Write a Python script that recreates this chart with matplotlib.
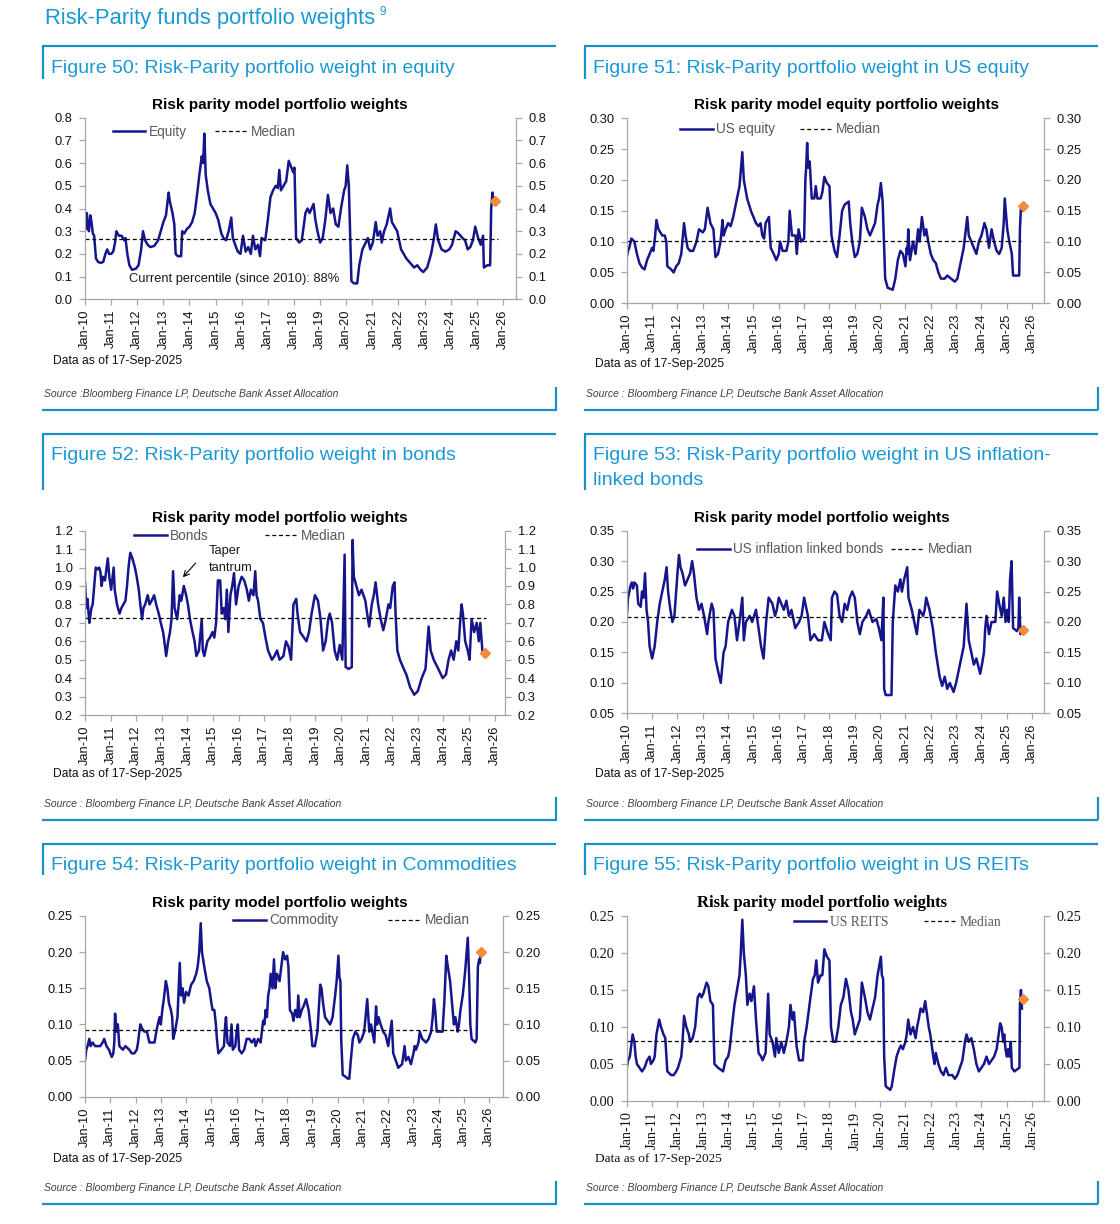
import matplotlib
matplotlib.use("Agg")
import matplotlib.pyplot as plt
from matplotlib.lines import Line2D
from matplotlib.ticker import FormatStrFormatter

# ---------------- data ----------------
year_ticks = list(range(2010, 2027))
tick_labels = ["Jan-10", "Jan-11", "Jan-12", "Jan-13", "Jan-14", "Jan-15", "Jan-16", "Jan-17",
               "Jan-18", "Jan-19", "Jan-20", "Jan-21", "Jan-22", "Jan-23", "Jan-24", "Jan-25", "Jan-26"]

eq_t = [2010.00, 2010.03, 2010.07, 2010.10, 2010.15, 2010.20, 2010.25, 2010.30, 2010.35, 2010.42,
        2010.50, 2010.60, 2010.70, 2010.78, 2010.85, 2010.92, 2011.00, 2011.08, 2011.15, 2011.20,
        2011.30, 2011.40, 2011.50, 2011.55, 2011.62, 2011.70, 2011.80, 2011.95, 2012.05, 2012.15,
        2012.22, 2012.30, 2012.40, 2012.50, 2012.65, 2012.80, 2012.90, 2013.00, 2013.10, 2013.20,
        2013.25, 2013.35, 2013.42, 2013.47, 2013.55, 2013.68, 2013.72, 2013.80, 2013.90, 2014.00,
        2014.10, 2014.20, 2014.30, 2014.38, 2014.47, 2014.52, 2014.57, 2014.62, 2014.70, 2014.80,
        2014.90, 2015.00, 2015.10, 2015.22, 2015.30, 2015.40, 2015.50, 2015.60, 2015.66, 2015.75,
        2015.85, 2015.95, 2016.05, 2016.15, 2016.25, 2016.35, 2016.43, 2016.52, 2016.62, 2016.70,
        2016.76, 2016.90, 2017.00, 2017.10, 2017.20, 2017.30, 2017.38, 2017.44, 2017.50, 2017.60,
        2017.70, 2017.80, 2017.90, 2017.97, 2018.02, 2018.08, 2018.20, 2018.30, 2018.44, 2018.52,
        2018.60, 2018.75, 2018.82, 2018.90, 2019.00, 2019.10, 2019.20, 2019.30, 2019.40, 2019.50,
        2019.60, 2019.70, 2019.80, 2019.92, 2019.98, 2020.04, 2020.10, 2020.20, 2020.30, 2020.42,
        2020.50, 2020.62, 2020.75, 2020.83, 2020.92, 2021.02, 2021.13, 2021.20, 2021.30, 2021.36,
        2021.45, 2021.55, 2021.68, 2021.75, 2021.85, 2021.95, 2022.10, 2022.30, 2022.45, 2022.60,
        2022.72, 2022.85, 2022.95, 2023.10, 2023.25, 2023.36, 2023.43, 2023.52, 2023.65, 2023.80,
        2023.95, 2024.05, 2024.19, 2024.30, 2024.45, 2024.55, 2024.65, 2024.75, 2024.85, 2024.94,
        2025.05, 2025.15, 2025.24, 2025.27, 2025.40, 2025.51, 2025.55, 2025.60, 2025.63]
eq_v = [0.38, 0.31, 0.38, 0.32, 0.30, 0.37, 0.34, 0.29, 0.28, 0.18,
        0.165, 0.16, 0.165, 0.20, 0.22, 0.20, 0.20, 0.21, 0.25, 0.30,
        0.28, 0.28, 0.26, 0.27, 0.20, 0.15, 0.13, 0.135, 0.15, 0.22,
        0.30, 0.26, 0.24, 0.23, 0.235, 0.26, 0.30, 0.34, 0.37, 0.47,
        0.43, 0.38, 0.33, 0.20, 0.19, 0.19, 0.30, 0.29, 0.31, 0.32,
        0.34, 0.38, 0.47, 0.55, 0.63, 0.60, 0.73, 0.55, 0.48, 0.42,
        0.40, 0.38, 0.35, 0.29, 0.27, 0.26, 0.30, 0.36, 0.27, 0.24,
        0.21, 0.20, 0.28, 0.21, 0.23, 0.20, 0.28, 0.22, 0.24, 0.19,
        0.27, 0.26, 0.35, 0.45, 0.48, 0.50, 0.49, 0.57, 0.48, 0.50,
        0.52, 0.61, 0.58, 0.56, 0.58, 0.27, 0.25, 0.26, 0.38, 0.40,
        0.38, 0.42, 0.35, 0.30, 0.25, 0.27, 0.35, 0.46, 0.38, 0.40,
        0.33, 0.32, 0.40, 0.48, 0.50, 0.59, 0.50, 0.08, 0.07, 0.07,
        0.15, 0.22, 0.25, 0.27, 0.22, 0.25, 0.34, 0.28, 0.30, 0.25,
        0.30, 0.33, 0.40, 0.34, 0.32, 0.30, 0.22, 0.18, 0.16, 0.14,
        0.15, 0.13, 0.12, 0.14, 0.20, 0.27, 0.33, 0.26, 0.22, 0.21,
        0.22, 0.24, 0.30, 0.29, 0.27, 0.26, 0.22, 0.23, 0.26, 0.32,
        0.27, 0.24, 0.28, 0.14, 0.15, 0.15, 0.40, 0.47, 0.44]

useq_t = [2010.00, 2010.05, 2010.10, 2010.18, 2010.30, 2010.40, 2010.50, 2010.60, 2010.70, 2010.80,
          2010.90, 2011.00, 2011.05, 2011.12, 2011.17, 2011.25, 2011.40, 2011.50, 2011.56, 2011.60,
          2011.75, 2011.85, 2011.95, 2012.05, 2012.15, 2012.26, 2012.32, 2012.40, 2012.50, 2012.62,
          2012.75, 2012.85, 2013.00, 2013.08, 2013.19, 2013.30, 2013.42, 2013.50, 2013.60, 2013.70,
          2013.78, 2013.82, 2013.90, 2014.00, 2014.10, 2014.20, 2014.35, 2014.45, 2014.56, 2014.62,
          2014.75, 2014.90, 2015.00, 2015.10, 2015.20, 2015.28, 2015.35, 2015.42, 2015.48, 2015.61,
          2015.68, 2015.80, 2015.90, 2016.00, 2016.05, 2016.15, 2016.30, 2016.38, 2016.43, 2016.52,
          2016.66, 2016.71, 2016.78, 2016.88, 2017.00, 2017.05, 2017.08, 2017.12, 2017.16, 2017.22,
          2017.30, 2017.40, 2017.46, 2017.52, 2017.65, 2017.72, 2017.80, 2017.90, 2018.00, 2018.08,
          2018.20, 2018.30, 2018.40, 2018.50, 2018.60, 2018.76, 2018.82, 2018.90, 2019.00, 2019.10,
          2019.20, 2019.28, 2019.40, 2019.50, 2019.60, 2019.70, 2019.80, 2019.90, 2019.96, 2020.03,
          2020.10, 2020.15, 2020.20, 2020.30, 2020.50, 2020.60, 2020.70, 2020.80, 2020.90, 2021.00,
          2021.05, 2021.08, 2021.11, 2021.18, 2021.30, 2021.40, 2021.50, 2021.56, 2021.65, 2021.75,
          2021.82, 2021.90, 2022.00, 2022.10, 2022.20, 2022.30, 2022.40, 2022.55, 2022.65, 2022.80,
          2022.95, 2023.05, 2023.15, 2023.30, 2023.44, 2023.50, 2023.60, 2023.70, 2023.80, 2023.90,
          2024.00, 2024.12, 2024.20, 2024.30, 2024.40, 2024.50, 2024.60, 2024.70, 2024.80, 2024.88,
          2024.92, 2025.02, 2025.10, 2025.20, 2025.25, 2025.49, 2025.52, 2025.56, 2025.60]
useq_v = [0.075, 0.085, 0.09, 0.105, 0.10, 0.08, 0.065, 0.058, 0.055, 0.07,
          0.08, 0.09, 0.085, 0.11, 0.135, 0.12, 0.11, 0.11, 0.10, 0.06,
          0.055, 0.05, 0.06, 0.065, 0.08, 0.13, 0.11, 0.09, 0.085, 0.085,
          0.10, 0.12, 0.115, 0.12, 0.155, 0.13, 0.12, 0.075, 0.08, 0.10,
          0.135, 0.11, 0.12, 0.13, 0.125, 0.14, 0.17, 0.19, 0.245, 0.20,
          0.17, 0.15, 0.14, 0.13, 0.125, 0.13, 0.11, 0.105, 0.13, 0.14,
          0.09, 0.08, 0.07, 0.08, 0.10, 0.085, 0.085, 0.10, 0.15, 0.11,
          0.11, 0.08, 0.12, 0.10, 0.105, 0.20, 0.22, 0.26, 0.22, 0.23,
          0.17, 0.17, 0.19, 0.17, 0.17, 0.18, 0.205, 0.195, 0.19, 0.11,
          0.085, 0.075, 0.11, 0.15, 0.16, 0.165, 0.13, 0.10, 0.075, 0.08,
          0.10, 0.155, 0.14, 0.12, 0.11, 0.12, 0.13, 0.16, 0.17, 0.195,
          0.165, 0.10, 0.04, 0.025, 0.022, 0.04, 0.07, 0.085, 0.08, 0.06,
          0.09, 0.08, 0.12, 0.07, 0.10, 0.08, 0.12, 0.10, 0.14, 0.11,
          0.12, 0.10, 0.08, 0.07, 0.065, 0.05, 0.04, 0.04, 0.045, 0.04,
          0.035, 0.04, 0.06, 0.09, 0.14, 0.11, 0.10, 0.09, 0.08, 0.10,
          0.11, 0.13, 0.12, 0.09, 0.12, 0.10, 0.085, 0.08, 0.09, 0.13,
          0.17, 0.12, 0.10, 0.08, 0.045, 0.045, 0.12, 0.155, 0.15]

bd_t = [2010.00, 2010.05, 2010.10, 2010.14, 2010.17, 2010.25, 2010.30, 2010.36, 2010.42, 2010.50,
        2010.55, 2010.60, 2010.65, 2010.70, 2010.78, 2010.89, 2010.95, 2011.02, 2011.12, 2011.16,
        2011.25, 2011.35, 2011.42, 2011.50, 2011.58, 2011.64, 2011.70, 2011.74, 2011.77, 2011.85,
        2011.95, 2012.02, 2012.10, 2012.16, 2012.23, 2012.28, 2012.35, 2012.45, 2012.52, 2012.60,
        2012.70, 2012.78, 2012.88, 2012.96, 2013.05, 2013.10, 2013.17, 2013.25, 2013.32, 2013.38,
        2013.44, 2013.50, 2013.60, 2013.70, 2013.76, 2013.86, 2013.95, 2014.02, 2014.10, 2014.20,
        2014.28, 2014.35, 2014.45, 2014.56, 2014.60, 2014.66, 2014.78, 2014.88, 2014.98, 2015.05,
        2015.12, 2015.19, 2015.28, 2015.34, 2015.42, 2015.48, 2015.54, 2015.60, 2015.68, 2015.75,
        2015.82, 2015.90, 2016.00, 2016.12, 2016.22, 2016.32, 2016.40, 2016.48, 2016.58, 2016.65,
        2016.70, 2016.76, 2016.85, 2016.95, 2017.05, 2017.15, 2017.30, 2017.40, 2017.50, 2017.60,
        2017.75, 2017.85, 2017.95, 2018.05, 2018.14, 2018.25, 2018.30, 2018.40, 2018.55, 2018.65,
        2018.75, 2018.85, 2018.98, 2019.10, 2019.20, 2019.30, 2019.40, 2019.50, 2019.56, 2019.65,
        2019.75, 2019.85, 2019.95, 2020.05, 2020.14, 2020.18, 2020.30, 2020.42, 2020.45, 2020.50,
        2020.60, 2020.70, 2020.80, 2020.95, 2021.02, 2021.10, 2021.20, 2021.28, 2021.35, 2021.45,
        2021.55, 2021.65, 2021.75, 2021.85, 2021.92, 2022.02, 2022.09, 2022.13, 2022.20, 2022.30,
        2022.45, 2022.55, 2022.70, 2022.86, 2023.00, 2023.15, 2023.30, 2023.42, 2023.50, 2023.62,
        2023.80, 2023.97, 2024.10, 2024.20, 2024.30, 2024.40, 2024.50, 2024.58, 2024.65, 2024.71,
        2024.76, 2024.85, 2024.95, 2025.02, 2025.10, 2025.20, 2025.30, 2025.38, 2025.44, 2025.52,
        2025.58]
bd_v = [0.92, 0.78, 0.83, 0.75, 0.70, 0.78, 0.80, 0.90, 1.00, 0.99,
        1.00, 0.98, 0.90, 0.95, 0.93, 1.05, 0.95, 0.88, 1.00, 0.88,
        0.80, 0.75, 0.78, 0.80, 0.82, 0.90, 1.00, 1.05, 1.08, 1.05,
        1.00, 0.95, 0.88, 0.80, 0.72, 0.78, 0.80, 0.85, 0.80, 0.82,
        0.85, 0.80, 0.75, 0.70, 0.65, 0.60, 0.52, 0.60, 0.65, 0.72,
        0.98, 0.78, 0.72, 0.85, 0.82, 0.90, 0.85, 0.80, 0.72, 0.65,
        0.60, 0.52, 0.55, 0.72, 0.55, 0.52, 0.60, 0.62, 0.65, 0.62,
        0.70, 0.93, 0.93, 0.75, 0.78, 0.72, 0.88, 0.65, 0.85, 0.90,
        0.97, 0.80, 0.90, 0.95, 0.93, 0.88, 0.82, 0.88, 0.85, 0.98,
        0.85, 0.82, 0.72, 0.70, 0.62, 0.55, 0.50, 0.52, 0.55, 0.50,
        0.52, 0.60, 0.57, 0.50, 0.80, 0.83, 0.75, 0.65, 0.62, 0.60,
        0.65, 0.75, 0.85, 0.82, 0.72, 0.55, 0.60, 0.72, 0.75, 0.70,
        0.55, 0.50, 0.58, 0.50, 1.07, 0.46, 0.45, 0.46, 1.15, 0.95,
        0.90, 0.85, 0.88, 0.82, 0.75, 0.68, 0.80, 0.85, 0.92, 0.80,
        0.72, 0.66, 0.72, 0.80, 0.78, 0.90, 0.92, 0.75, 0.55, 0.50,
        0.45, 0.42, 0.35, 0.31, 0.33, 0.40, 0.45, 0.68, 0.55, 0.50,
        0.45, 0.40, 0.42, 0.50, 0.55, 0.50, 0.60, 0.55, 0.70, 0.80,
        0.75, 0.60, 0.55, 0.50, 0.72, 0.65, 0.70, 0.60, 0.70, 0.55,
        0.52]

ilb_t = [2010.00, 2010.05, 2010.10, 2010.15, 2010.20, 2010.25, 2010.30, 2010.40, 2010.45, 2010.55,
         2010.60, 2010.66, 2010.72, 2010.78, 2010.84, 2010.90, 2011.00, 2011.05, 2011.10, 2011.20,
         2011.30, 2011.40, 2011.50, 2011.57, 2011.63, 2011.72, 2011.80, 2011.88, 2011.95, 2012.00,
         2012.06, 2012.12, 2012.20, 2012.30, 2012.40, 2012.50, 2012.58, 2012.65, 2012.75, 2012.85,
         2012.95, 2013.05, 2013.17, 2013.22, 2013.35, 2013.42, 2013.50, 2013.60, 2013.71, 2013.82,
         2013.90, 2014.00, 2014.15, 2014.25, 2014.35, 2014.45, 2014.56, 2014.62, 2014.70, 2014.85,
         2014.95, 2015.10, 2015.20, 2015.30, 2015.40, 2015.50, 2015.60, 2015.75, 2015.85, 2015.92,
         2016.00, 2016.10, 2016.20, 2016.30, 2016.40, 2016.50, 2016.65, 2016.80, 2016.90, 2017.00,
         2017.15, 2017.25, 2017.40, 2017.55, 2017.70, 2017.80, 2017.95, 2018.05, 2018.10, 2018.20,
         2018.30, 2018.40, 2018.50, 2018.60, 2018.70, 2018.80, 2018.90, 2019.00, 2019.10, 2019.20,
         2019.30, 2019.45, 2019.55, 2019.70, 2019.85, 2019.95, 2020.05, 2020.13, 2020.16, 2020.22,
         2020.45, 2020.50, 2020.60, 2020.70, 2020.80, 2020.86, 2020.95, 2021.07, 2021.12, 2021.25,
         2021.35, 2021.45, 2021.55, 2021.70, 2021.76, 2021.82, 2021.95, 2022.08, 2022.20, 2022.35,
         2022.45, 2022.55, 2022.65, 2022.75, 2022.90, 2023.00, 2023.15, 2023.30, 2023.41, 2023.50,
         2023.60, 2023.70, 2023.80, 2023.95, 2024.02, 2024.10, 2024.15, 2024.20, 2024.30, 2024.40,
         2024.55, 2024.62, 2024.70, 2024.80, 2024.88, 2024.95, 2025.02, 2025.08, 2025.13, 2025.19,
         2025.25, 2025.40, 2025.46, 2025.49, 2025.54, 2025.60]
ilb_v = [0.21, 0.24, 0.25, 0.26, 0.265, 0.255, 0.265, 0.26, 0.23, 0.225,
         0.25, 0.24, 0.28, 0.22, 0.20, 0.16, 0.14, 0.15, 0.16, 0.20,
         0.23, 0.25, 0.27, 0.29, 0.25, 0.22, 0.20, 0.21, 0.25, 0.28,
         0.31, 0.29, 0.28, 0.26, 0.27, 0.28, 0.30, 0.28, 0.24, 0.22,
         0.23, 0.21, 0.18, 0.20, 0.23, 0.22, 0.14, 0.12, 0.10, 0.15,
         0.16, 0.20, 0.22, 0.21, 0.17, 0.20, 0.24, 0.17, 0.20, 0.21,
         0.20, 0.22, 0.19, 0.16, 0.14, 0.20, 0.24, 0.23, 0.21, 0.22,
         0.24, 0.23, 0.22, 0.235, 0.21, 0.22, 0.19, 0.20, 0.21, 0.24,
         0.21, 0.17, 0.18, 0.17, 0.17, 0.20, 0.18, 0.17, 0.24, 0.25,
         0.245, 0.21, 0.20, 0.23, 0.22, 0.24, 0.25, 0.24, 0.20, 0.18,
         0.20, 0.21, 0.22, 0.20, 0.205, 0.19, 0.17, 0.24, 0.09, 0.08,
         0.08, 0.20, 0.26, 0.25, 0.27, 0.25, 0.27, 0.29, 0.24, 0.22,
         0.20, 0.18, 0.22, 0.21, 0.22, 0.24, 0.22, 0.19, 0.15, 0.11,
         0.095, 0.11, 0.09, 0.10, 0.085, 0.10, 0.13, 0.16, 0.23, 0.17,
         0.15, 0.13, 0.14, 0.115, 0.13, 0.15, 0.19, 0.21, 0.18, 0.20,
         0.20, 0.25, 0.23, 0.21, 0.24, 0.20, 0.22, 0.20, 0.27, 0.30,
         0.19, 0.185, 0.19, 0.24, 0.18, 0.19]

cm_t = [2010.00, 2010.05, 2010.10, 2010.17, 2010.22, 2010.30, 2010.40, 2010.60, 2010.70, 2010.76,
        2010.85, 2010.95, 2011.00, 2011.06, 2011.12, 2011.16, 2011.19, 2011.25, 2011.30, 2011.36,
        2011.50, 2011.60, 2011.75, 2011.85, 2011.95, 2012.05, 2012.10, 2012.15, 2012.19, 2012.25,
        2012.35, 2012.45, 2012.55, 2012.75, 2012.85, 2012.95, 2013.00, 2013.06, 2013.12, 2013.20,
        2013.26, 2013.32, 2013.40, 2013.45, 2013.49, 2013.56, 2013.66, 2013.75, 2013.80, 2013.86,
        2013.92, 2014.00, 2014.10, 2014.20, 2014.30, 2014.40, 2014.46, 2014.52, 2014.58, 2014.63,
        2014.72, 2014.82, 2014.92, 2015.00, 2015.05, 2015.12, 2015.18, 2015.22, 2015.28, 2015.40,
        2015.50, 2015.55, 2015.58, 2015.64, 2015.74, 2015.80, 2015.85, 2015.95, 2016.00, 2016.05,
        2016.10, 2016.20, 2016.30, 2016.40, 2016.50, 2016.60, 2016.70, 2016.75, 2016.85, 2016.95,
        2017.00, 2017.05, 2017.10, 2017.15, 2017.20, 2017.25, 2017.30, 2017.35, 2017.42, 2017.48,
        2017.53, 2017.60, 2017.70, 2017.84, 2017.92, 2018.00, 2018.05, 2018.11, 2018.20, 2018.25,
        2018.32, 2018.40, 2018.44, 2018.50, 2018.58, 2018.65, 2018.75, 2018.85, 2018.95, 2019.00,
        2019.10, 2019.20, 2019.25, 2019.31, 2019.36, 2019.42, 2019.50, 2019.60, 2019.70, 2019.80,
        2019.90, 2019.96, 2020.03, 2020.07, 2020.11, 2020.14, 2020.20, 2020.30, 2020.40, 2020.46,
        2020.52, 2020.60, 2020.70, 2020.80, 2020.86, 2020.95, 2021.05, 2021.17, 2021.25, 2021.32,
        2021.45, 2021.52, 2021.56, 2021.62, 2021.70, 2021.80, 2021.90, 2022.00, 2022.14, 2022.20,
        2022.30, 2022.40, 2022.55, 2022.65, 2022.70, 2022.80, 2022.90, 2023.00, 2023.05, 2023.10,
        2023.20, 2023.25, 2023.35, 2023.50, 2023.60, 2023.70, 2023.76, 2023.81, 2023.86, 2023.92,
        2024.15, 2024.22, 2024.30, 2024.36, 2024.45, 2024.50, 2024.55, 2024.60, 2024.66, 2024.75,
        2024.80, 2024.86, 2024.95, 2025.05, 2025.15, 2025.20, 2025.25, 2025.30, 2025.45, 2025.50,
        2025.55, 2025.60, 2025.63, 2025.66]
cm_v = [0.05, 0.065, 0.07, 0.08, 0.07, 0.075, 0.07, 0.07, 0.075, 0.08,
        0.07, 0.065, 0.06, 0.055, 0.06, 0.075, 0.115, 0.09, 0.10, 0.07,
        0.065, 0.07, 0.065, 0.06, 0.06, 0.065, 0.075, 0.09, 0.10, 0.095,
        0.09, 0.09, 0.075, 0.075, 0.095, 0.11, 0.10, 0.12, 0.135, 0.16,
        0.15, 0.13, 0.12, 0.11, 0.08, 0.09, 0.11, 0.185, 0.14, 0.15,
        0.13, 0.145, 0.14, 0.155, 0.16, 0.17, 0.18, 0.20, 0.24, 0.20,
        0.18, 0.16, 0.15, 0.13, 0.12, 0.12, 0.10, 0.08, 0.06, 0.065,
        0.07, 0.10, 0.11, 0.075, 0.07, 0.10, 0.065, 0.07, 0.09, 0.10,
        0.065, 0.06, 0.065, 0.08, 0.08, 0.075, 0.08, 0.07, 0.08, 0.075,
        0.09, 0.105, 0.10, 0.12, 0.11, 0.14, 0.15, 0.17, 0.15, 0.19,
        0.15, 0.17, 0.16, 0.20, 0.19, 0.195, 0.18, 0.12, 0.115, 0.105,
        0.12, 0.11, 0.14, 0.11, 0.12, 0.125, 0.135, 0.12, 0.09, 0.07,
        0.07, 0.09, 0.12, 0.155, 0.15, 0.13, 0.11, 0.105, 0.10, 0.11,
        0.14, 0.16, 0.195, 0.165, 0.16, 0.08, 0.03, 0.028, 0.025, 0.025,
        0.05, 0.08, 0.09, 0.085, 0.075, 0.08, 0.09, 0.135, 0.09, 0.10,
        0.075, 0.125, 0.10, 0.11, 0.10, 0.09, 0.085, 0.07, 0.105, 0.06,
        0.05, 0.04, 0.045, 0.07, 0.05, 0.055, 0.045, 0.06, 0.07, 0.065,
        0.075, 0.09, 0.08, 0.075, 0.08, 0.09, 0.11, 0.135, 0.12, 0.09,
        0.09, 0.13, 0.195, 0.18, 0.16, 0.14, 0.12, 0.10, 0.11, 0.09,
        0.10, 0.12, 0.14, 0.175, 0.22, 0.17, 0.10, 0.08, 0.075, 0.08,
        0.18, 0.19, 0.185, 0.20]

re_t = [2010.00, 2010.05, 2010.12, 2010.23, 2010.30, 2010.35, 2010.40, 2010.50, 2010.60, 2010.70,
        2010.80, 2010.90, 2010.95, 2011.05, 2011.10, 2011.17, 2011.28, 2011.35, 2011.45, 2011.52,
        2011.60, 2011.75, 2011.85, 2011.95, 2012.02, 2012.15, 2012.20, 2012.26, 2012.35, 2012.45,
        2012.50, 2012.60, 2012.70, 2012.80, 2012.88, 2012.95, 2013.02, 2013.15, 2013.22, 2013.30,
        2013.40, 2013.46, 2013.60, 2013.80, 2013.90, 2014.00, 2014.06, 2014.15, 2014.25, 2014.35,
        2014.45, 2014.50, 2014.56, 2014.62, 2014.70, 2014.76, 2014.85, 2014.92, 2015.02, 2015.10,
        2015.20, 2015.30, 2015.36, 2015.48, 2015.58, 2015.64, 2015.75, 2015.85, 2015.90, 2016.00,
        2016.10, 2016.20, 2016.30, 2016.40, 2016.46, 2016.54, 2016.60, 2016.70, 2016.80, 2016.95,
        2017.00, 2017.10, 2017.25, 2017.35, 2017.42, 2017.48, 2017.55, 2017.65, 2017.72, 2017.80,
        2017.90, 2018.00, 2018.06, 2018.15, 2018.25, 2018.35, 2018.45, 2018.55, 2018.65, 2018.75,
        2018.85, 2018.92, 2019.00, 2019.10, 2019.20, 2019.28, 2019.40, 2019.50, 2019.60, 2019.70,
        2019.80, 2019.90, 2020.03, 2020.07, 2020.12, 2020.16, 2020.22, 2020.40, 2020.46, 2020.55,
        2020.65, 2020.75, 2020.82, 2020.90, 2021.00, 2021.05, 2021.11, 2021.20, 2021.30, 2021.40,
        2021.46, 2021.52, 2021.60, 2021.70, 2021.78, 2021.84, 2021.92, 2021.98, 2022.10, 2022.15,
        2022.20, 2022.30, 2022.40, 2022.50, 2022.60, 2022.70, 2022.85, 2022.95, 2023.05, 2023.15,
        2023.25, 2023.35, 2023.41, 2023.50, 2023.60, 2023.70, 2023.80, 2023.90, 2024.00, 2024.10,
        2024.20, 2024.30, 2024.40, 2024.50, 2024.60, 2024.68, 2024.74, 2024.80, 2024.86, 2024.90,
        2024.95, 2025.00, 2025.05, 2025.10, 2025.16, 2025.20, 2025.30, 2025.50, 2025.52, 2025.56,
        2025.60]
re_v = [0.045, 0.055, 0.06, 0.09, 0.08, 0.06, 0.05, 0.045, 0.04, 0.045,
        0.055, 0.06, 0.05, 0.055, 0.06, 0.09, 0.11, 0.10, 0.09, 0.085,
        0.04, 0.035, 0.035, 0.04, 0.045, 0.06, 0.08, 0.115, 0.10, 0.09,
        0.08, 0.085, 0.10, 0.14, 0.145, 0.14, 0.145, 0.16, 0.155, 0.135,
        0.13, 0.05, 0.045, 0.04, 0.055, 0.06, 0.07, 0.10, 0.13, 0.15,
        0.17, 0.20, 0.245, 0.20, 0.17, 0.13, 0.145, 0.135, 0.155, 0.11,
        0.065, 0.06, 0.055, 0.065, 0.145, 0.09, 0.08, 0.06, 0.085, 0.065,
        0.08, 0.065, 0.08, 0.10, 0.13, 0.11, 0.12, 0.075, 0.055, 0.055,
        0.08, 0.10, 0.14, 0.165, 0.17, 0.19, 0.16, 0.17, 0.17, 0.205,
        0.195, 0.19, 0.10, 0.08, 0.08, 0.10, 0.13, 0.14, 0.165, 0.15,
        0.12, 0.11, 0.09, 0.10, 0.11, 0.16, 0.14, 0.12, 0.11, 0.125,
        0.14, 0.17, 0.195, 0.17, 0.165, 0.06, 0.02, 0.015, 0.02, 0.04,
        0.06, 0.07, 0.075, 0.07, 0.08, 0.09, 0.11, 0.09, 0.10, 0.085,
        0.10, 0.11, 0.125, 0.12, 0.135, 0.12, 0.10, 0.09, 0.06, 0.05,
        0.065, 0.05, 0.04, 0.035, 0.045, 0.035, 0.035, 0.03, 0.035, 0.045,
        0.055, 0.08, 0.09, 0.08, 0.085, 0.07, 0.05, 0.04, 0.045, 0.05,
        0.06, 0.05, 0.055, 0.06, 0.07, 0.09, 0.105, 0.10, 0.08, 0.09,
        0.07, 0.06, 0.07, 0.06, 0.08, 0.045, 0.04, 0.045, 0.13, 0.15,
        0.125]

medians = [0.265, 0.101, 0.725, 0.209, 0.092, 0.0815]
median_end = [2025.83, 2025.56, 2025.65, 2025.56, 2025.22, 2025.56]
current_t = [2025.69, 2025.66, 2025.62, 2025.66, 2025.69, 2025.66]
current_v = [0.435, 0.157, 0.535, 0.187, 0.200, 0.138]

series_names = ["Equity", "US equity", "Bonds", "US inflation linked bonds", "Commodity", "US REITS"]
chart_titles = ["Risk parity model portfolio weights", "Risk parity model equity portfolio weights",
                "Risk parity model portfolio weights", "Risk parity model portfolio weights",
                "Risk parity model portfolio weights", "Risk parity model portfolio weights"]
figure_titles = [["Figure 50: Risk-Parity portfolio weight in equity"],
                 ["Figure 51: Risk-Parity portfolio weight in US equity"],
                 ["Figure 52: Risk-Parity portfolio weight in bonds"],
                 ["Figure 53: Risk-Parity portfolio weight in US inflation-", "linked bonds"],
                 ["Figure 54: Risk-Parity portfolio weight in Commodities"],
                 ["Figure 55: Risk-Parity portfolio weight in US REITs"]]
sources = ["Source :Bloomberg Finance LP, Deutsche Bank Asset Allocation"] + \
          ["Source : Bloomberg Finance LP, Deutsche Bank Asset Allocation"] * 5
data_note = "Data as of 17-Sep-2025"
percentile_note = "Current percentile (since 2010): 88%"

series = [(eq_t, eq_v), (useq_t, useq_v), (bd_t, bd_v), (ilb_t, ilb_v), (cm_t, cm_v), (re_t, re_v)]

# ---------------- layout (pixels) ----------------
W, H = 1120, 1224
def fx(x): return x / W
def fy(y): return 1 - y / H

NAVY = "#16168c"
BLUE_LINE = "#1b8fc8"
BLUE_TEXT = "#1a98d5"
ORANGE = "#f08c3c"
SANS = ["Liberation Sans", "DejaVu Sans"]
SERIF = ["Liberation Serif", "DejaVu Serif"]

# L, R, T, B, xmax, ylo, yhi, ystep, fmt
ax_geom = [
    (85, 516, 117.7, 299.3, 2026.50, 0.0, 0.8, 0.1, "%.1f"),
    (626.8, 1044, 118.3, 303.3, 2026.47, 0.0, 0.30, 0.05, "%.2f"),
    (85, 505.4, 530.7, 715.0, 2026.42, 0.2, 1.2, 0.1, "%.1f"),
    (626.8, 1044, 530.7, 713.3, 2026.47, 0.05, 0.35, 0.05, "%.2f"),
    (85, 502.9, 916.0, 1096.7, 2026.54, 0.0, 0.25, 0.05, "%.2f"),
    (626.8, 1044, 916.0, 1101.0, 2026.47, 0.0, 0.25, 0.05, "%.2f"),
]
# legend: x frac, y frac, columnspacing
leg_geom = [(0.064, 0.923, 2.1), (0.128, 0.94, 1.8), (0.117, 0.973, 4.1),
            (0.168, 0.898, 0.6), (0.354, 0.976, 3.7), (0.40, 0.966, 2.6)]
title_pos = [(279.5, 109.3), (846.6, 109.3), (279.5, 521.7), (821.6, 521.7), (279.5, 906.7), (821.6, 907.3)]
note_pos = [(53, 364), (594.6, 366.7), (53, 776.7), (594.6, 776.7), (53, 1161.7), (594.6, 1162.3)]
src_pos = [(43.6, 396.7), (585.7, 396.7), (43.6, 806.7), (585.7, 806.7), (43.6, 1190.7), (585.7, 1190.7)]
figt_pos = [(51, 73.3), (593, 73.3), (51, 460.5), (593, 460.5), (51, 870), (593, 870)]

fig = plt.figure(figsize=(11.2, 12.24), dpi=100)

def fig_line(x1, y1, x2, y2):
    fig.add_artist(Line2D([fx(x1), fx(x2)], [fy(y1), fy(y2)], transform=fig.transFigure,
                          color=BLUE_LINE, lw=1.6, solid_capstyle="butt"))

# page title
fig.text(fx(44.6), fy(24.3), "Risk-Parity funds portfolio weights", fontsize=15.8,
         color=BLUE_TEXT, family=SANS, va="baseline", ha="left")
fig.text(fx(380), fy(15), "9", fontsize=8.5, color=BLUE_TEXT, family=SANS, va="baseline", ha="left")

# box lines
for (lx, rx) in [(43, 556), (585, 1097.5)]:
    for (top, vbot, bot) in [(46, 79, 410), (434, 490, 820), (844, 875, 1204)]:
        fig_line(lx - 0.8, top, rx, top)
        fig_line(lx, top, lx, vbot)
        fig_line(lx - 1, bot, rx + 0.8, bot)
        fig_line(rx, bot - 23, rx, bot)

for i in range(6):
    L, R, T, B, xmax, ylo, yhi, ystep, fmt = ax_geom[i]
    serif = (i == 5)
    fam = SERIF if serif else SANS
    tsize = 10.3 if serif else 9.3
    ax = fig.add_axes([fx(L), fy(B), (R - L) / W, (B - T) / H])
    t, v = series[i]
    ax.plot(t, v, color=NAVY, lw=1.8, label=series_names[i], solid_joinstyle="round")
    ax.hlines(medians[i], 2010, median_end[i], colors="black", lw=0.9,
              linestyles=(0, (3.2, 2.2)), label="Median")
    ax.plot([current_t[i]], [current_v[i]], marker="D", ms=5, color=ORANGE, ls="none", zorder=5)
    ax.set_xlim(2010, xmax)
    ax.set_ylim(ylo, yhi)
    n = int(round((yhi - ylo) / ystep))
    ax.set_yticks([ylo + k * ystep for k in range(n + 1)])
    ax.yaxis.set_major_formatter(FormatStrFormatter(fmt))
    ax.set_xticks(year_ticks)
    ax.set_xticklabels(tick_labels, rotation=90)
    ax.spines["top"].set_visible(False)
    for s in ["left", "right", "bottom"]:
        ax.spines[s].set_color("#a6a6a6")
        ax.spines[s].set_linewidth(0.9)
    ax.tick_params(axis="y", which="both", direction="out", length=4.5, width=0.9, color="#a6a6a6",
                   left=True, right=True, labelleft=True, labelright=True, pad=4.5,
                   labelsize=tsize, labelcolor="#111111")
    ax.tick_params(axis="x", direction="out", length=4, width=0.9, color="#a6a6a6", pad=3.5,
                   labelsize=tsize, labelcolor="#111111")
    for lab in ax.get_xticklabels() + ax.get_yticklabels():
        lab.set_family(fam)
    for tl in ax.yaxis.get_major_ticks():
        tl.label1.set_family(fam)
        tl.label2.set_family(fam)
        tl.label2.set_fontsize(tsize)
    ax.set_facecolor("none")

    lx, lyf, csp = leg_geom[i]
    leg = ax.legend(loc="center left", bbox_to_anchor=(lx, lyf), ncol=2, frameon=False,
                    handlelength=2.4, handletextpad=0.25, columnspacing=csp, borderpad=0,
                    borderaxespad=0, prop={"family": fam, "size": 9.8})
    for txt in leg.get_texts():
        txt.set_color("#595959")

    tx, ty = title_pos[i]
    fig.text(fx(tx), fy(ty), chart_titles[i], fontsize=(12 if serif else 11), fontweight="bold",
             family=fam, ha="center", va="baseline", color="#000000")
    nx, ny = note_pos[i]
    fig.text(fx(nx), fy(ny), data_note, fontsize=(9.6 if serif else 8.7), family=fam, ha="left",
             va="baseline", color="#111111")
    sx, sy = src_pos[i]
    fig.text(fx(sx), fy(sy), sources[i], fontsize=7.5, family=SANS, style="italic",
             ha="left", va="baseline", color="#404040")
    gx, gy = figt_pos[i]
    for k, line in enumerate(figure_titles[i]):
        fig.text(fx(gx), fy(gy + 25 * k), line, fontsize=14, family=SANS, ha="left",
                 va="baseline", color=BLUE_TEXT)

    if i == 0:
        ax.text(2011.67, 0.078, percentile_note, fontsize=9.3, family=SANS, ha="left",
                va="baseline", color="#1a1a1a")
    if i == 2:
        ax.text(2014.84, 1.072, "Taper", fontsize=9.3, family=SANS, ha="left", va="baseline",
                color="#1a1a1a")
        ax.text(2014.84, 0.983, "tantrum", fontsize=9.3, family=SANS, ha="left", va="baseline",
                color="#1a1a1a")
        ax.annotate("", xy=(2013.75, 0.936), xytext=(2014.39, 1.035),
                    arrowprops=dict(arrowstyle="->", color="black", lw=0.8))

fig.savefig("out.png", dpi=100, facecolor="white")
